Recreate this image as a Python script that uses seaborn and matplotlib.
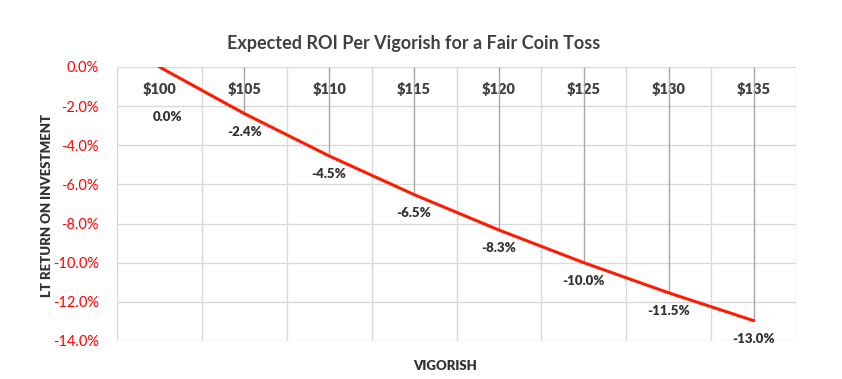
import matplotlib
matplotlib.use("Agg")
import matplotlib.pyplot as plt
import seaborn as sns
import pandas as pd
import numpy as np
from matplotlib.ticker import FuncFormatter, MultipleLocator

categories = ["$100", "$105", "$110", "$115", "$120", "$125", "$130", "$135"]
roi = [0.0, -2.38, -4.545, -6.52, -8.33, -10.0, -11.54, -12.96]
roi_labels = ["0.0%", "-2.4%", "-4.5%", "-6.5%", "-8.3%", "-10.0%", "-11.5%", "-13.0%"]

sns.set_theme(style="white")
plt.rcParams["font.family"] = ["Lato", "DejaVu Sans"]

df = pd.DataFrame({"pos": np.arange(len(categories)), "roi": roi, "cat": categories})

fig = plt.figure(figsize=(8.42, 3.79), dpi=100)
ax = fig.add_axes([117/842, 1-341/379, (796-117)/842, (341-67)/379])

ax.set_xlim(-0.5, len(categories) - 0.5)
ax.set_ylim(-14, 0)

# gridlines
grid_c = "#d9d9d9"
for b in np.arange(-0.5, len(categories), 1.0):
    ax.axvline(b, color=grid_c, lw=1.0, zorder=0)
for yv in np.arange(-14, 0.1, 2):
    ax.axhline(yv, color=grid_c, lw=1.0, zorder=0)

# drop lines
ax.vlines(df["pos"], df["roi"], 0, color="#a6a6a6", lw=1.0, zorder=1)

sns.lineplot(data=df, x="pos", y="roi", ax=ax, color="#ff1a00", lw=2.2, zorder=3)

for s in ax.spines.values():
    s.set_visible(False)

ax.yaxis.set_major_locator(MultipleLocator(2))
ax.yaxis.set_major_formatter(FuncFormatter(lambda v, p: f"{v:.1f}%"))
ax.tick_params(axis="y", colors="#ff0000", labelsize=10.5, length=0, pad=13)
for lbl in ax.get_yticklabels():
    lbl.set_color("#ff0000")

ax.xaxis.set_ticks_position("top")
ax.xaxis.set_label_position("top")
ax.set_xticks(df["pos"])
ax.set_xticklabels(categories, fontweight="heavy", fontsize=10.5, color="#404040")
ax.tick_params(axis="x", length=0, pad=-21)
ax.set_xlabel("")
ax.set_ylabel("")

# data labels
for i, (x, y, t) in enumerate(zip(df["pos"], df["roi"], roi_labels)):
    dy = -50 if i == 0 else -18
    dx = 8 if i == 0 else 0
    ax.annotate(t, (x, y), xytext=(dx*0.72, dy*0.72), textcoords="offset points",
                ha="center", va="center", fontsize=9.5, fontweight="heavy", color="#333333")

fig.text(414/842, 1-43/379, "Expected ROI Per Vigorish for a Fair Coin Toss",
         ha="center", va="center", fontsize=13, fontweight="bold", color="#404040")
fig.text(47/842, 1-205/379, "LT RETURN ON INVESTMENT", rotation=90,
         ha="center", va="center", fontsize=9.5, fontweight="heavy", color="#333333")
fig.text(445/842, 1-366/379, "VIGORISH",
         ha="center", va="center", fontsize=9.5, fontweight="heavy", color="#333333")

fig.savefig("out.png", dpi=100)
